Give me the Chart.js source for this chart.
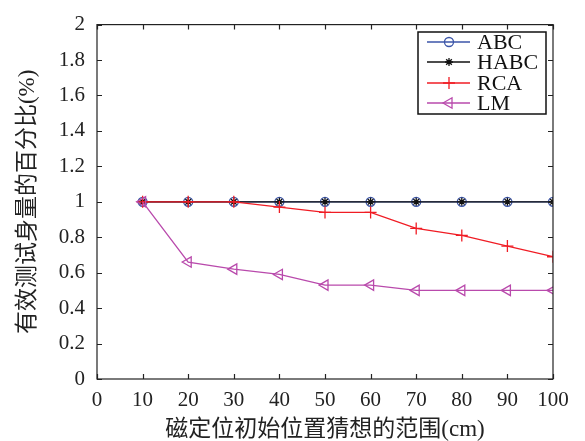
<!DOCTYPE html>
<html><head><meta charset="utf-8">
<script src="https://cdn.jsdelivr.net/npm/chart.js@4/dist/chart.umd.min.js"></script>
<style>html,body{margin:0;padding:0;background:#fff}#wrap{width:585px;height:441px}</style>
</head><body><div id="wrap"><canvas id="c" width="585" height="441"></canvas></div>
<script>
const categories = [10,20,30,40,50,60,70,80,90,100];
const abc  = [1,1,1,1,1,1,1,1,1,1];
const habc = [1,1,1,1,1,1,1,1,1,1];
const rca  = [1,1,1,0.97,0.94,0.94,0.85,0.81,0.75,0.69];
const lm   = [1,0.66,0.62,0.59,0.53,0.53,0.50,0.50,0.50,0.50];
const xTicks = [0,10,20,30,40,50,60,70,80,90,100];
const yTicks = [0,0.2,0.4,0.6,0.8,1,1.2,1.4,1.6,1.8,2];
const seriesNames = ['ABC','HABC','RCA','LM'];
const xTitle = '磁定位初始位置猜想的范围(cm)';
const yTitle = '有效测试身量的百分比(%)';

const pts = arr => arr.map((v,i)=>({x:categories[i], y:v}));
const serif = '"Liberation Serif","DejaVu Serif",serif';
const cjk = '"Liberation Serif","Noto Sans CJK SC",serif';

const datasets = [
 {label:seriesNames[0], data:pts(abc), borderColor:'#3b55a8', backgroundColor:'rgba(0,0,0,0)', pointStyle:'circle', pointRadius:4.5, pointBorderColor:'#3b55a8', pointBorderWidth:1.3, borderWidth:1.3, order:4},
 {label:seriesNames[1], data:pts(habc), borderColor:'#111', backgroundColor:'rgba(0,0,0,0)', pointStyle:'star', pointRadius:4, pointBorderColor:'#111', pointBorderWidth:1.3, borderWidth:1.3, order:3},
 {label:seriesNames[2], data:pts(rca), borderColor:'#f01c24', backgroundColor:'rgba(0,0,0,0)', pointStyle:'cross', pointRadius:6, pointBorderColor:'#f01c24', pointBorderWidth:1.3, borderWidth:1.3, order:2},
 {label:seriesNames[3], data:pts(lm), borderColor:'#b94aac', backgroundColor:'rgba(0,0,0,0)', pointStyle:'triangle', pointRotation:-90, pointRadius:6, pointBorderColor:'#b94aac', pointBorderWidth:1.3, borderWidth:1.3, order:1}
];

const decor = {
 id:'decor',
 afterDraw(chart){
  const ctx = chart.ctx, a = chart.chartArea;
  const xs = chart.scales.x, ys = chart.scales.y;
  ctx.save();
  ctx.strokeStyle='#222'; ctx.lineWidth=1.2;
  ctx.strokeRect(a.left, a.top, a.right-a.left, a.bottom-a.top);
  ctx.beginPath();
  const L=5;
  xTicks.forEach(v=>{const px=Math.round(xs.getPixelForValue(v))+0.5;
    ctx.moveTo(px,a.bottom);ctx.lineTo(px,a.bottom-L);
    ctx.moveTo(px,a.top);ctx.lineTo(px,a.top+L);});
  yTicks.forEach(v=>{const py=Math.round(ys.getPixelForValue(v))+0.5;
    ctx.moveTo(a.left,py);ctx.lineTo(a.left+L,py);
    ctx.moveTo(a.right,py);ctx.lineTo(a.right-L,py);});
  ctx.stroke();
  // legend
  const bx=418, by=32, bw=128, bh=82;
  ctx.fillStyle='#fff'; ctx.fillRect(bx,by,bw,bh);
  ctx.strokeStyle='#111'; ctx.lineWidth=1.5; ctx.strokeRect(bx,by,bw,bh);
  const rows=[42,62,83,103];
  chart.data.datasets.forEach((d,i)=>{
    const y=rows[i];
    ctx.strokeStyle=d.borderColor; ctx.lineWidth=1.3;
    ctx.beginPath(); ctx.moveTo(427,y); ctx.lineTo(470,y); ctx.stroke();
    ctx.strokeStyle=d.pointBorderColor; ctx.fillStyle='rgba(0,0,0,0)';
    Chart.helpers.drawPoint(ctx,{pointStyle:d.pointStyle,radius:d.pointRadius,rotation:d.pointRotation||0,borderWidth:d.pointBorderWidth},449,y);
    ctx.fillStyle='#111'; ctx.font='22px '+serif; ctx.textBaseline='middle'; ctx.textAlign='left';
    ctx.fillText(d.label,477,y+1);
  });
  ctx.restore();
 }
};

new Chart(document.getElementById('c'),{
 type:'line',
 data:{datasets},
 options:{
  responsive:false, animation:false, devicePixelRatio:1,
  layout:{padding:{left:0,top:23,right:32,bottom:0}},
  plugins:{legend:{display:false},tooltip:{enabled:false}},
  elements:{line:{tension:0}},
  scales:{
   x:{type:'linear',min:0,max:100,
      afterBuildTicks:s=>{s.ticks=xTicks.map(v=>({value:v}));},
      afterFit:s=>{s.height=62;},
      grid:{display:false,drawTicks:false}, border:{display:false},
      ticks:{color:'#222',font:{family:serif,size:21},padding:9,maxRotation:0,autoSkip:false},
      title:{display:true,text:xTitle,color:'#222',font:{family:cjk,size:23},padding:{top:0,bottom:-3}}},
   y:{type:'linear',min:0,max:2,
      afterBuildTicks:s=>{s.ticks=yTicks.map(v=>({value:v}));},
      afterFit:s=>{s.width=97;},
      grid:{display:false,drawTicks:false}, border:{display:false},
      ticks:{color:'#222',font:{family:serif,size:21},padding:12,autoSkip:false,callback:v=>String(v)},
      title:{display:true,text:yTitle,color:'#222',font:{family:cjk,size:23},padding:{top:14,bottom:0}}}
  }
 },
 plugins:[decor]
});
</script></body></html>
